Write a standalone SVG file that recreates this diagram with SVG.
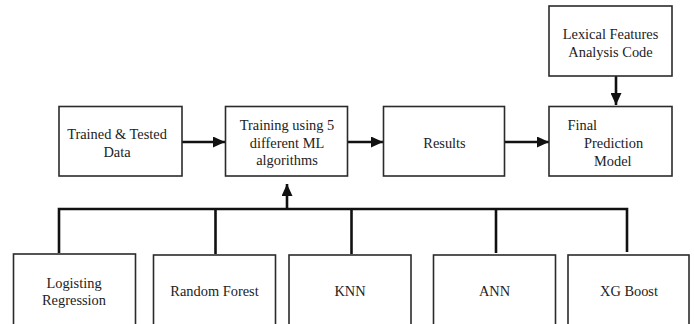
<svg xmlns="http://www.w3.org/2000/svg" width="694" height="324" viewBox="0 0 694 324">
  <style>
    .box { fill: #ffffff; stroke: #2b2b2b; stroke-width: 1.6; }
    .lbl { font-family: "Liberation Serif", "Times New Roman", serif; font-size: 14.4px; fill: #222222; }
    .mid { text-anchor: middle; }
    .wire { fill: none; stroke: #111111; stroke-width: 2.6; }
  </style>
  <defs>
    <marker id="head" markerUnits="userSpaceOnUse" markerWidth="12" markerHeight="11" refX="12" refY="5.5" orient="auto">
      <path d="M0,0 L12,5.5 L0,11 z" fill="#111111"/>
    </marker>
  </defs>
  <rect width="694" height="324" fill="#ffffff"/>

  <g id="connectors">
    <line class="wire" x1="182" y1="142" x2="225" y2="142" marker-end="url(#head)"/>
    <line class="wire" x1="348" y1="142" x2="383" y2="142" marker-end="url(#head)"/>
    <line class="wire" x1="505" y1="142" x2="549" y2="142" marker-end="url(#head)"/>
    <line class="wire" x1="616" y1="76" x2="616" y2="105" marker-end="url(#head)"/>
    <path class="wire" d="M59,253 V209 H627 V252"/>
    <line class="wire" x1="215.5" y1="209" x2="215.5" y2="254"/>
    <line class="wire" x1="351.5" y1="209" x2="351.5" y2="254"/>
    <line class="wire" x1="496" y1="209" x2="496" y2="253"/>
    <line class="wire" x1="287" y1="209" x2="287" y2="184" marker-end="url(#head)"/>
  </g>

  <g id="trained-data">
    <rect class="box" x="59" y="106.5" width="123" height="69.5"/>
    <text class="lbl mid" x="117" y="138.5">Trained &amp; Tested</text>
    <text class="lbl mid" x="117" y="157">Data</text>
  </g>

  <g id="training">
    <rect class="box" x="225.5" y="106.5" width="122" height="69.5"/>
    <text class="lbl mid" x="287" y="129.5">Training using 5</text>
    <text class="lbl mid" x="287" y="147.5">different ML</text>
    <text class="lbl mid" x="287" y="165">algorithms</text>
  </g>

  <g id="results">
    <rect class="box" x="383.5" y="106.5" width="121" height="69.5"/>
    <text class="lbl mid" x="444.5" y="148">Results</text>
  </g>

  <g id="final-model">
    <rect class="box" x="549" y="106.5" width="123" height="69.5"/>
    <text class="lbl" x="567.5" y="129.5">Final</text>
    <text class="lbl" x="584" y="147.5">Prediction</text>
    <text class="lbl" x="594" y="165.5">Model</text>
  </g>

  <g id="lexical-features">
    <rect class="box" x="549" y="6" width="123" height="70"/>
    <text class="lbl mid" x="610.5" y="38.5">Lexical Features</text>
    <text class="lbl mid" x="610.5" y="56.5">Analysis Code</text>
  </g>

  <g id="logistic-regression">
    <rect class="box" x="13.5" y="254" width="122" height="80"/>
    <text class="lbl mid" x="74" y="287.5">Logisting</text>
    <text class="lbl mid" x="74" y="305">Regression</text>
  </g>

  <g id="random-forest">
    <rect class="box" x="153.5" y="255" width="122" height="80"/>
    <text class="lbl mid" x="214.5" y="296">Random Forest</text>
  </g>

  <g id="knn">
    <rect class="box" x="289" y="255" width="122" height="80"/>
    <text class="lbl mid" x="350" y="296">KNN</text>
  </g>

  <g id="ann">
    <rect class="box" x="433.5" y="255" width="122" height="80"/>
    <text class="lbl mid" x="494.5" y="296">ANN</text>
  </g>

  <g id="xg-boost">
    <rect class="box" x="568" y="255" width="121" height="80"/>
    <text class="lbl mid" x="629" y="296">XG Boost</text>
  </g>
</svg>
